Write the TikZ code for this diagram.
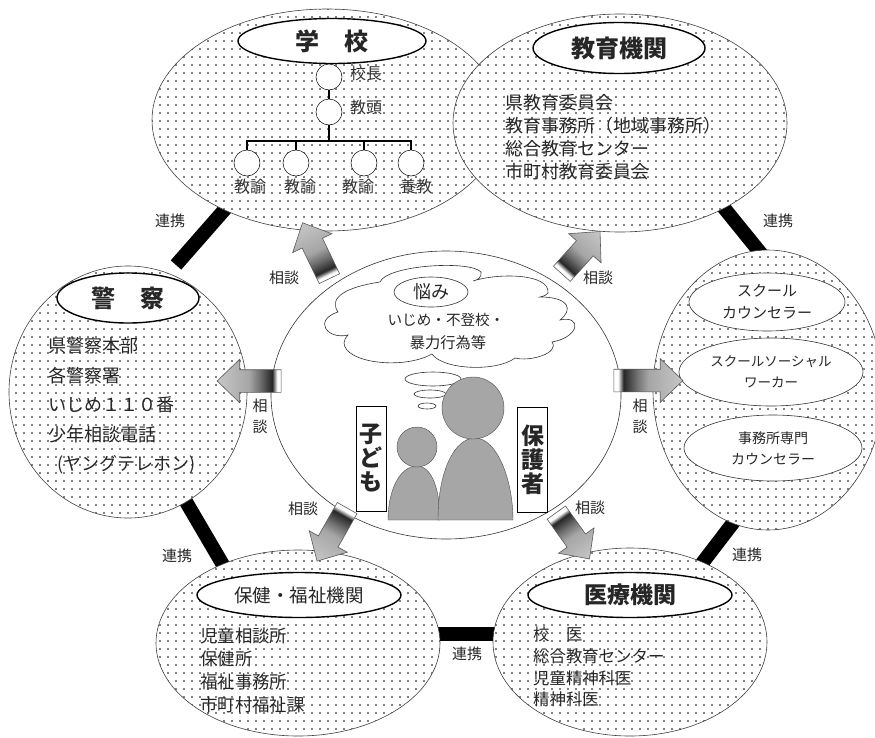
\documentclass[tikz,border=0pt]{standalone}
\usepackage{fontspec}
\setmainfont{Noto Sans CJK JP}
\usetikzlibrary{shapes.geometric,shapes.arrows,patterns.meta}
\pgfdeclarehorizontalshading{consultshade}{100bp}{color(0bp)=(white); color(25bp)=(white); color(28bp)=(white); color(32bp)=(black!85); color(42bp)=(black!55); color(50bp)=(black!35); color(75bp)=(black!22); color(100bp)=(black!22)}
\definecolor{figgray}{gray}{0.65}
\newcommand{\fsize}[1]{\fontsize{#1}{#1}\selectfont}
\tikzset{
	zone/.style={ellipse, inner sep=0pt, draw=black!75, line width=0.6pt, preaction={fill=white}, pattern={Dots[distance=8pt,radius=0.85pt]}, pattern color=black},
	titleoval/.style={ellipse, inner sep=0pt, draw=black, line width=1.4pt, fill=white, text=black!85, font=\fsize{24}\bfseries},
	plainoval/.style={ellipse, inner sep=0pt, draw=black!80, line width=0.6pt, fill=white, align=center, text=black!85},
	staff/.style={circle, minimum size=26pt, inner sep=0pt, draw=black, line width=0.5pt, fill=white},
	stafftext/.style={font=\fsize{16}, inner sep=0pt, text=black!80},
	listtext/.style={anchor=west, align=left, inner sep=0pt, text=black!85},
	linktext/.style={font=\fsize{15}, inner sep=0pt, align=center, text=black!85},
	linkbar/.style={line width=14pt, black},
	orgline/.style={line width=1.2pt, black},
	consult/.style={single arrow, minimum width=43pt, single arrow head extend=10.5pt, single arrow tip angle=88, inner xsep=0pt, inner ysep=11pt, outer sep=0pt, draw=black!65, line width=0.6pt, shading=consultshade},
	namebox/.style={draw=black, line width=0.6pt, fill=white, inner sep=0pt, minimum width=30pt, minimum height=105pt, align=center, text=black!85, font=\fontsize{23}{24}\selectfont\bfseries},
	person/.style={fill=figgray, draw=black!70, line width=0.4pt},
}
\begin{document}
\begin{tikzpicture}[x=1pt,y=-1pt]
		\useasboundingbox (0,0) rectangle (875,737);
		\coordinate (barAa) at (226,208);
		\coordinate (barAb) at (176,265);
		\coordinate (barBa) at (720,203);
		\coordinate (barBb) at (763,256);
		\coordinate (barCa) at (736,519);
		\coordinate (barCb) at (700,566);
		\coordinate (barDa) at (430,634);
		\coordinate (barDb) at (500,634);
		\coordinate (barEa) at (185,500);
		\coordinate (barEb) at (226,570);
		\draw[linkbar] (barAa)--(barAb);
		\draw[linkbar] (barBa)--(barBb);
		\draw[linkbar] (barCa)--(barCb);
		\draw[linkbar] (barDa)--(barDb);
		\draw[linkbar] (barEa)--(barEb);
		\node[zone, minimum width=350pt, minimum height=222pt] (school) at (327,120) {};
		\node[zone, minimum width=334pt, minimum height=218pt] (edu) at (620,123) {};
		\node[zone, minimum width=238pt, minimum height=252pt] (police) at (128,392) {};
		\node[zone, minimum width=230pt, minimum height=280pt] (support) at (768,390) {};
		\node[zone, minimum width=284pt, minimum height=186pt] (welfare) at (298,643) {};
		\node[zone, minimum width=274pt, minimum height=188pt] (medical) at (630,642) {};
		\node[ellipse, inner sep=0pt, draw=black!80, line width=0.6pt, fill=white, minimum width=350pt, minimum height=288pt] (center) at (446,395) {};

		% school
		\node[titleoval, minimum width=188pt, minimum height=45pt] (schooltitle) at (332,41) {学\hspace{26pt}校};
		\node[staff] (principal) at (329,77) {};
		\node[staff] (vice) at (329,112) {};
		\node[staff] (teacherA) at (247,163) {};
		\node[staff] (teacherB) at (296,163) {};
		\node[staff] (teacherC) at (364,163) {};
		\node[staff] (teacherD) at (411,163) {};
		\coordinate (branch) at (329,141);
		\draw[orgline] (principal)--(vice);
		\foreach \t in {teacherA,teacherB,teacherC,teacherD}
			\draw[orgline] (vice)--(branch)-|(\t);
		\node[stafftext] (principaltext) at (366,73) {校長};
		\node[stafftext] (vicetext) at (366,107) {教頭};
		\node[stafftext] (teacherAtext) at (250,186) {教諭};
		\node[stafftext] (teacherBtext) at (300,186) {教諭};
		\node[stafftext] (teacherCtext) at (358,186) {教諭};
		\node[stafftext] (teacherDtext) at (416,186) {養教};

		% education
		\node[titleoval, minimum width=172pt, minimum height=51pt] (edutitle) at (619,48) {教育機関};
		\node[listtext, font=\fontsize{18}{23}\selectfont] (edulist) at (505,137) {県教育委員会\\教育事務所（地域事務所）\\総合教育センター\\市町村教育委員会};

		% police
		\node[titleoval, minimum width=142pt, minimum height=50pt] (policetitle) at (128,298) {警\hspace{26pt}察};
		\node[listtext, font=\fontsize{18}{29.5}\selectfont] (policelist) at (48,406) {県警察本部\\各警察署\\いじめ１１０番\\少年相談電話\\\hspace{9pt}(ヤングテレホン)};

		% counselors
		\node[plainoval, minimum width=156pt, minimum height=58pt, font=\fontsize{15}{22}\selectfont] (counselor) at (767,302) {スクール\\カウンセラー};
		\node[plainoval, minimum width=184pt, minimum height=68pt, font=\fontsize{13.5}{21}\selectfont] (social) at (771,372) {スクールソーシャル\\ワーカー};
		\node[plainoval, minimum width=178pt, minimum height=66pt, font=\fontsize{14}{21}\selectfont] (office) at (773,448) {事務所専門\\カウンセラー};

		% welfare
		\node[titleoval, minimum width=204pt, minimum height=45pt, font=\fsize{18.5}] (welfaretitle) at (299,595) {保健・福祉機関};
		\node[listtext, font=\fontsize{17.4}{23}\selectfont] (welfarelist) at (200,670) {児童相談所\\保健所\\福祉事務所\\市町村福祉課};

		% medical
		\node[titleoval, minimum width=204pt, minimum height=45pt, font=\fsize{23}\bfseries] (medicaltitle) at (630,595) {医療機関};
		\node[listtext, font=\fontsize{16.4}{21.7}\selectfont] (medicallist) at (533,667) {校　医\\総合教育センター\\児童精神科医\\精神科医};

		% worry cloud
		\draw[draw=black!80, line width=0.6pt, fill=white] (338,312) .. controls (328,297) and (347,287) .. (380,282)
			.. controls (387,265) and (470,260) .. (481,272) .. controls (482,277) and (478,280) .. (473,281)
			.. controls (497,273) and (550,273) .. (548,293) .. controls (547,295) and (544,296) .. (540,297)
			.. controls (570,297) and (573,310) .. (560,320) .. controls (582,315) and (580,337) .. (552,342)
			.. controls (560,353) and (530,362) .. (515,358) .. controls (497,372) and (443,370) .. (432,354)
			.. controls (403,370) and (345,363) .. (344,343) .. controls (344,340) and (346,337) .. (348,335)
			.. controls (327,340) and (313,320) .. (338,312) -- cycle;
		\node[plainoval, minimum width=74pt, minimum height=30pt, font=\fsize{18}] (worry) at (431,292) {悩み};
		\node[font=\fsize{14.6}, inner sep=0pt, text=black!85] (worrylineA) at (446,320) {いじめ・不登校・};
		\node[font=\fsize{15.3}, inner sep=0pt, text=black!85] (worrylineB) at (448,343) {暴力行為等};
		\node[plainoval, minimum width=56pt, minimum height=14pt] (thoughtA) at (433,379) {};
		\node[plainoval, minimum width=32pt, minimum height=8pt] (thoughtB) at (430,394) {};
		\node[plainoval, minimum width=18pt, minimum height=6pt] (thoughtC) at (427,406) {};

		% people
		\draw[person] (388,520) .. controls (388,490) and (400,466) .. (417,466) .. controls (432,466) and (440,490) .. (440,520) -- cycle;
		\draw[person] (438,520) .. controls (438,470) and (455,438) .. (475,438) .. controls (497,438) and (513,480) .. (513,520) -- cycle;
		\node[circle, person, minimum size=40pt, inner sep=0pt] (childhead) at (417,447) {};
		\node[circle, person, minimum size=62pt, inner sep=0pt] (parenthead) at (473,408) {};
		\node[namebox] (childbox) at (371,458.5) {子\\ど\\も};
		\node[namebox] (parentbox) at (532.5,460) {保\\護\\者};

		% arrows
		\foreach \n/\x/\y/\a/\l in {arrowA/318.5/256/115.7/62, arrowB/577/257/47.9/57, arrowC/255/381/180/64, arrowD/642.5/380.5/0/69, arrowE/335/529.5/240.5/61, arrowF/569.5/531/305.6/57} {
			\begin{scope}[transform canvas={rotate around={\a:(\x,\y)}}]
				\node[consult, minimum height=\l pt] (\n) at (\x,\y) {};
			\end{scope}
		}

		\node[linktext] (talkA) at (284,278) {相談};
		\node[linktext] (talkB) at (598,278) {相談};
		\node[linktext, font=\fontsize{15}{21}\selectfont] (talkC) at (260,416) {相\\談};
		\node[linktext, font=\fontsize{15}{21}\selectfont] (talkD) at (640,416) {相\\談};
		\node[linktext] (talkE) at (303,509) {相談};
		\node[linktext] (talkF) at (590,508) {相談};

		\node[linktext] (linkA) at (170,221) {連携};
		\node[linktext] (linkB) at (778,221) {連携};
		\node[linktext] (linkC) at (747,555) {連携};
		\node[linktext] (linkD) at (467,654) {連携};
		\node[linktext] (linkE) at (177,556) {連携};
	\end{tikzpicture}
\end{document}
